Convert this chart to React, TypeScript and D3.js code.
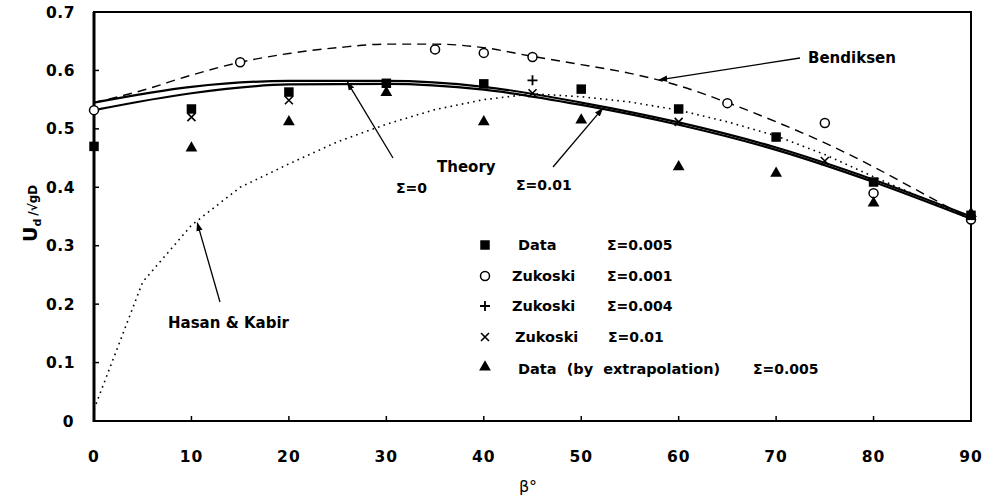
import React from "react";
import * as d3 from "d3";

// Axis ticks
const betaTicks = [0, 10, 20, 30, 40, 50, 60, 70, 80, 90];
const uTicks = [0, 0.1, 0.2, 0.3, 0.4, 0.5, 0.6, 0.7];

// Measured drift velocity, Σ=0.005 (filled squares)
const dataSquare: [number, number][] = [
  [0, 0.47], [10, 0.534], [20, 0.563], [30, 0.578], [40, 0.577],
  [50, 0.568], [60, 0.534], [70, 0.486], [80, 0.409], [90, 0.352],
];
// Data by extrapolation, Σ=0.005 (filled triangles)
const dataTriangle: [number, number][] = [
  [10, 0.467], [20, 0.512], [30, 0.562], [40, 0.512], [50, 0.515],
  [60, 0.435], [70, 0.424], [80, 0.373], [90, 0.355],
];
// Zukoski, Σ=0.001 (open circles)
const zukoski001: [number, number][] = [
  [0, 0.532], [15, 0.614], [35, 0.636], [40, 0.63], [45, 0.623],
  [65, 0.544], [75, 0.51], [80, 0.39], [90, 0.345],
];
// Zukoski, Σ=0.004 (plus)
const zukoski004: [number, number][] = [[45, 0.583]];
// Zukoski, Σ=0.01 (crosses)
const zukoski01: [number, number][] = [
  [10, 0.52], [20, 0.549], [45, 0.561], [60, 0.512], [75, 0.445],
];

// Theory curves
const theorySigma0: [number, number][] = [
  [0, 0.545], [10, 0.572], [20, 0.582], [30, 0.582], [40, 0.572],
  [50, 0.545], [60, 0.511], [70, 0.468], [80, 0.413], [90, 0.35],
];
const theorySigma001: [number, number][] = [
  [0, 0.532], [10, 0.561], [20, 0.576], [30, 0.577], [40, 0.567],
  [50, 0.541], [60, 0.507], [70, 0.464], [80, 0.409], [90, 0.346],
];
// Bendiksen correlation (dashed)
const bendiksen: [number, number][] = [
  [0, 0.545], [5, 0.566], [10, 0.592], [15, 0.614], [20, 0.629],
  [25, 0.639], [30, 0.645], [35, 0.645], [40, 0.639], [45, 0.624],
  [50, 0.61], [55, 0.595], [60, 0.574], [65, 0.545], [70, 0.512],
  [75, 0.476], [80, 0.435], [85, 0.39], [90, 0.345],
];
// Hasan & Kabir correlation (dotted)
const hasanKabir: [number, number][] = [
  [0, 0.02], [5, 0.238], [10, 0.335], [15, 0.4], [20, 0.44],
  [25, 0.478], [30, 0.508], [35, 0.533], [40, 0.55], [45, 0.56],
  [50, 0.555], [55, 0.546], [60, 0.532], [65, 0.512], [70, 0.488],
  [75, 0.456], [80, 0.418], [85, 0.382], [90, 0.345],
];

const W = 988;
const H = 499;
const x = d3.scaleLinear().domain([0, 90]).range([94, 971]);
const y = d3.scaleLinear().domain([0, 0.7]).range([421, 12]);

const FONT = "DejaVu Sans, Verdana, sans-serif";

const line = d3
  .line<[number, number]>()
  .x((d) => x(d[0]))
  .y((d) => y(d[1]))
  .curve(d3.curveMonotoneX);

const hkLine = d3
  .line<[number, number]>()
  .x((d) => x(d[0]))
  .y((d) => y(d[1]))
  .curve(d3.curveLinear);

const sym = (type: d3.SymbolType, size: number) => d3.symbol().type(type).size(size)() as string;
const squarePath = sym(d3.symbolSquare, 90);
const trianglePath = sym(d3.symbolTriangle, 60);
const plusPath = "M-5,0H5M0,-5V5";
const crossPath = "M-4,-4L4,4M-4,4L4,-4";

function Square({ cx, cy }: { cx: number; cy: number }) {
  return <path d={squarePath} transform={`translate(${cx},${cy})`} fill="#000" />;
}
function Triangle({ cx, cy }: { cx: number; cy: number }) {
  return <path d={trianglePath} transform={`translate(${cx},${cy})`} fill="#000" />;
}
function Circle({ cx, cy }: { cx: number; cy: number }) {
  return <circle cx={cx} cy={cy} r={4.5} fill="#fff" stroke="#000" strokeWidth={1.5} />;
}
function Plus({ cx, cy }: { cx: number; cy: number }) {
  return <path d={plusPath} transform={`translate(${cx},${cy})`} stroke="#000" strokeWidth={1.8} fill="none" />;
}
function Cross({ cx, cy }: { cx: number; cy: number }) {
  return <path d={crossPath} transform={`translate(${cx},${cy})`} stroke="#000" strokeWidth={1.6} fill="none" />;
}

const legendRows = [
  { key: "sq", label: "Data", sigma: "Σ=0.005", ly: 245, lx: 518, sx: 607 },
  { key: "ci", label: "Zukoski", sigma: "Σ=0.001", ly: 276, lx: 512, sx: 607 },
  { key: "pl", label: "Zukoski", sigma: "Σ=0.004", ly: 306, lx: 512, sx: 607 },
  { key: "cr", label: "Zukoski", sigma: "Σ=0.01", ly: 337, lx: 515, sx: 608 },
  { key: "tr", label: "Data  (by  extrapolation)", sigma: "Σ=0.005", ly: 369, lx: 518, sx: 753 },
];

export default function App() {
  const textStyle = { fontFamily: FONT, fontWeight: 700 } as const;
  return (
    <svg
      width={W}
      height={H}
      viewBox={`0 0 ${W} ${H}`}
      style={{ position: "absolute", left: 0, top: 0, background: "#fff" }}
    >
      <defs>
        <marker id="arrow" viewBox="0 0 10 10" refX="9" refY="5" markerWidth="9" markerHeight="9" orient="auto-start-reverse" markerUnits="userSpaceOnUse">
          <path d="M0,1.5L10,5L0,8.5Z" fill="#000" />
        </marker>
      </defs>

      {/* frame */}
      <rect x={x(0)} y={y(0.7)} width={x(90) - x(0)} height={y(0) - y(0.7)} fill="none" stroke="#000" strokeWidth={2} />
      <line x1={x(0)} x2={x(0)} y1={y(0.7)} y2={y(0) + 1} stroke="#000" strokeWidth={3} />

      {/* ticks */}
      {betaTicks.map((t) => (
        <g key={`xt${t}`}>
          {t > 0 && t < 90 && <line x1={x(t)} x2={x(t)} y1={y(0)} y2={y(0) - 5} stroke="#000" strokeWidth={1.5} />}
          <text x={x(t)} y={462} textAnchor="middle" fontSize={15.5} style={textStyle} letterSpacing={1}>
            {t}
          </text>
        </g>
      ))}
      {uTicks.map((t) => (
        <g key={`yt${t}`}>
          {t > 0 && t < 0.7 && <line x1={x(0)} x2={x(0) + 5} y1={y(t)} y2={y(t)} stroke="#000" strokeWidth={1.5} />}
          <text x={t === 0 ? 74 : 75} y={y(t) + 5.5} textAnchor="end" fontSize={15.5} style={textStyle} letterSpacing={0.5}>
            {t === 0 ? "0" : t.toFixed(1)}
          </text>
        </g>
      ))}

      {/* axis titles */}
      <text x={528} y={492} textAnchor="middle" fontSize={16} style={{ fontFamily: FONT }}>
        β°
      </text>
      <text transform="translate(37,242) rotate(-90)" style={textStyle}>
        <tspan fontSize={19}>U</tspan>
        <tspan fontSize={11} dy={4}>d</tspan>
        <tspan fontSize={12} dy={-4} dx={3}>/√gD</tspan>
      </text>

      {/* curves */}
      <path d={hkLine(hasanKabir) as string} fill="none" stroke="#000" strokeWidth={1.6} strokeDasharray="1.6 4.2" />
      <path d={line(bendiksen) as string} fill="none" stroke="#000" strokeWidth={1.4} strokeDasharray="9 6" />
      <path d={line(theorySigma0) as string} fill="none" stroke="#000" strokeWidth={2.2} />
      <path d={line(theorySigma001) as string} fill="none" stroke="#000" strokeWidth={2.2} />

      {/* markers */}
      {zukoski001.map(([b, v]) => (
        <Circle key={`c${b}`} cx={x(b)} cy={y(v)} />
      ))}
      {dataTriangle.map(([b, v]) => (
        <Triangle key={`t${b}`} cx={x(b)} cy={y(v)} />
      ))}
      {dataSquare.map(([b, v]) => (
        <Square key={`s${b}`} cx={x(b)} cy={y(v)} />
      ))}
      {zukoski004.map(([b, v]) => (
        <Plus key={`p${b}`} cx={x(b)} cy={y(v)} />
      ))}
      {zukoski01.map(([b, v]) => (
        <Cross key={`x${b}`} cx={x(b)} cy={y(v)} />
      ))}

      {/* annotations */}
      <text x={808} y={63} fontSize={15} style={textStyle}>Bendiksen</text>
      <line x1={800} y1={58} x2={x(58)} y2={y(0.584)} stroke="#000" strokeWidth={1.3} markerEnd="url(#arrow)" />

      <text x={437} y={172} fontSize={15} style={textStyle}>Theory</text>
      <text x={396} y={193} fontSize={14} style={textStyle}>Σ=0</text>
      <line x1={393} y1={158} x2={x(26)} y2={y(0.58)} stroke="#000" strokeWidth={1.3} markerEnd="url(#arrow)" />
      <text x={516} y={190} fontSize={14} style={textStyle}>Σ=0.01</text>
      <line x1={553} y1={167} x2={x(52.2)} y2={y(0.535)} stroke="#000" strokeWidth={1.3} markerEnd="url(#arrow)" />

      <text x={168} y={328} fontSize={15} style={textStyle}>Hasan &amp; Kabir</text>
      <line x1={220} y1={302} x2={x(10.6)} y2={y(0.339)} stroke="#000" strokeWidth={1.3} markerEnd="url(#arrow)" />

      {/* legend */}
      {legendRows.map((r) => {
        const mx = 485;
        const my = r.ly;
        return (
          <g key={r.key}>
            {r.key === "sq" && <Square cx={mx} cy={my} />}
            {r.key === "ci" && <Circle cx={mx} cy={my} />}
            {r.key === "pl" && <Plus cx={mx} cy={my} />}
            {r.key === "cr" && <Cross cx={mx} cy={my} />}
            {r.key === "tr" && <Triangle cx={mx} cy={my - 2} />}
            <text x={r.lx} y={my + 5} fontSize={14.5} style={{ ...textStyle, whiteSpace: "pre" }}>
              {r.label}
            </text>
            <text x={r.sx} y={my + 5} fontSize={14} style={textStyle}>
              {r.sigma}
            </text>
          </g>
        );
      })}
    </svg>
  );
}
